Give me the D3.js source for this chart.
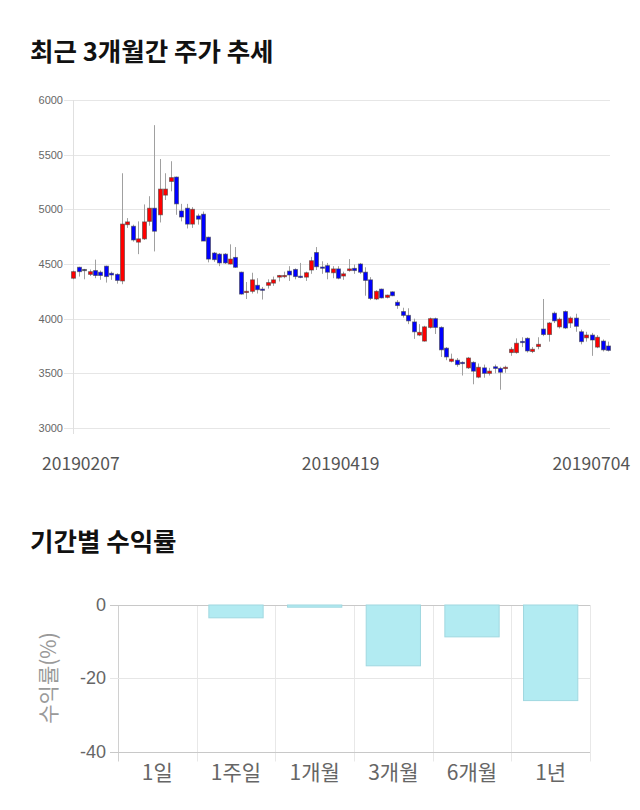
<!DOCTYPE html>
<html>
<head>
<meta charset="utf-8">
<script src="https://cdn.jsdelivr.net/npm/d3@7"></script>
<style>
html,body{margin:0;padding:0;background:#fff;}
svg{display:block;}
</style>
</head>
<body>
<svg id="chart" width="640" height="810"></svg>
<script>
// ---------- data: 3-month daily candles ----------
const opens  = [4370,4470,4450,4405,4440,4425,4480,4415,4405,4345,
                4860,4845,4700,4730,4890,5010,4950,5130,5255,5295,
                4985,5010,4865,4940,4955,4745,4600,4590,4590,4500,
                4560,4425,4245,4250,4305,4270,4305,4325,4380,4390,
                4435,4450,4388,4380,4445,4605,4472,4485,4420,4455,
                4390,4440,4460,4500,4425,4355,4180,4270,4195,4245,
                4150,4065,4030,3970,3850,3795,3920,4000,3920,3730,
                3610,3620,3600,3550,3600,3465,3550,3500,3560,3545,
                3545,3690,3690,3792,3820,3700,3745,3905,3855,4050,
                3925,4065,3960,4005,3880,3825,3850,3740,3795,3750];
const highs  = [4440,4475,4455,4450,4540,4440,4485,4430,4415,5330,
                4920,4860,4890,5045,5120,5770,5460,5330,5440,5300,
                5050,5050,5020,4960,4980,4750,4610,4600,4600,4680,
                4655,4430,4335,4420,4370,4290,4360,4385,4400,4430,
                4480,4460,4510,4430,4565,4655,4525,4510,4480,4480,
                4430,4545,4495,4510,4470,4380,4260,4275,4220,4250,
                4170,4100,4095,4000,3950,3935,4010,4010,3930,3740,
                3680,3640,3610,3650,3610,3590,3580,3550,3580,3560,
                3570,3740,3820,3830,3830,3740,3830,4180,3970,4065,
                4010,4075,4020,4045,3900,3880,3870,3850,3810,3790];
const lows   = [4360,4385,4360,4390,4370,4355,4330,4355,4320,4315,
                4830,4705,4590,4720,4850,4615,4880,5085,5165,4950,
                4890,4825,4830,4860,4710,4515,4520,4480,4500,4495,
                4465,4220,4180,4230,4230,4175,4275,4300,4340,4370,
                4345,4360,4370,4345,4410,4445,4410,4360,4370,4360,
                4355,4430,4410,4410,4210,4170,4170,4185,4185,4205,
                4090,4010,3950,3815,3840,3790,3910,3860,3650,3620,
                3600,3560,3480,3540,3400,3455,3460,3480,3500,3350,
                3505,3660,3680,3740,3690,3685,3720,3840,3790,3960,
                3910,3905,3915,3880,3765,3790,3660,3730,3700,3700];
const closes = [4430,4430,4450,4430,4395,4395,4385,4400,4350,4865,
                4885,4720,4730,4885,5010,4800,5185,5185,5290,5050,
                4930,4865,5000,4910,4710,4545,4540,4510,4510,4545,
                4470,4225,4250,4355,4265,4260,4330,4355,4395,4395,
                4400,4385,4385,4420,4530,4475,4470,4425,4455,4370,
                4410,4455,4440,4425,4350,4185,4250,4190,4215,4210,
                4120,4030,3980,3880,3875,3925,4000,3920,3715,3650,
                3630,3580,3595,3640,3520,3555,3500,3520,3545,3510,
                3555,3720,3775,3790,3705,3720,3765,3855,3960,3980,
                3995,3915,4005,3930,3790,3850,3805,3830,3715,3710];
const priceTicks = [3000,3500,4000,4500,5000,5500,6000];
const dateLabels = ["20190207","20190419","20190704"];
const dateLabelIdx = [1.4, 49.5, 95.9];

// ---------- data: period returns ----------
const periods = ["1일","1주일","1개월","3개월","6개월","1년"];
const returns = [0,-3.5,-0.6,-16.6,-8.7,-26.1];
const returnTicks = [0,-20,-40];

const svg = d3.select("#chart");
const KR = "'Noto Sans CJK KR','Noto Sans',sans-serif";
const LAT = "'Liberation Sans',Arial,sans-serif";

// ---------- titles ----------
svg.append("text").attr("x",30).attr("y",61).text("최근 3개월간 주가 추세")
  .attr("font-family",KR).attr("font-weight","bold").attr("font-size",25.5).attr("fill","#111");
svg.append("text").attr("x",30).attr("y",551).text("기간별 수익률")
  .attr("font-family",KR).attr("font-weight","bold").attr("font-size",25.5).attr("fill","#111");

// ---------- candlestick chart ----------
const x = d3.scaleLinear().domain([0, opens.length-1]).range([73.3, 608]);
const y = d3.scaleLinear().domain([3000, 6000]).range([428, 100]);
const g = svg.append("g");

g.selectAll("line.grid").data(priceTicks).join("line")
  .attr("x1",64).attr("x2",610)
  .attr("y1",d=>Math.round(y(d))+0.5).attr("y2",d=>Math.round(y(d))+0.5)
  .attr("stroke","#e6e6e6").attr("stroke-width",1);
g.append("line").attr("x1",73.5).attr("x2",73.5).attr("y1",y(6000)).attr("y2",y(3000)+6)
  .attr("stroke","#e0e0e0");
g.selectAll("text.pt").data(priceTicks).join("text")
  .attr("x",63).attr("y",d=>y(d)+4).attr("text-anchor","end")
  .attr("font-family",LAT).attr("font-size",11).attr("fill","#666").text(d=>d);

const idx = d3.range(opens.length);
g.selectAll("line.wick").data(idx).join("line")
  .attr("x1",i=>Math.round(x(i))+0.5).attr("x2",i=>Math.round(x(i))+0.5)
  .attr("y1",i=>y(highs[i])).attr("y2",i=>y(lows[i]))
  .attr("stroke","#a0a0a0").attr("stroke-width",1);
g.selectAll("rect.body").data(idx).join("rect")
  .attr("x",i=>Math.round(x(i))-1.5).attr("width",4)
  .attr("y",i=>y(Math.max(opens[i],closes[i])))
  .attr("height",i=>Math.max(1.2, Math.abs(y(opens[i])-y(closes[i]))))
  .attr("fill",i=>closes[i]>opens[i]?"#ff0000":(closes[i]<opens[i]?"#0000ff":"#333366"))
  .attr("stroke","rgba(60,60,60,0.55)").attr("stroke-width",1);

g.selectAll("text.dl").data(dateLabels).join("text")
  .attr("x",(d,i)=>x(dateLabelIdx[i])).attr("y",470).attr("text-anchor","middle")
  .attr("font-family",KR).attr("font-size",17.5).attr("fill","#555").text(d=>d);

// ---------- returns bar chart ----------
const xb = d3.scaleBand().domain(periods).range([118, 590]);
const yb = d3.scaleLinear().domain([-40, 0]).range([751.5, 605]);
const b = svg.append("g");

b.selectAll("line.vg").data(periods.concat(["_end"])).join("line")
  .attr("x1",(d,i)=>Math.round(118+i*xb.bandwidth())+0.5)
  .attr("x2",(d,i)=>Math.round(118+i*xb.bandwidth())+0.5)
  .attr("y1",yb(0)).attr("y2",yb(-40)+10)
  .attr("stroke",(d,i)=>i===0?"#d0d0d0":"#e8e8e8");
b.selectAll("line.hg").data(returnTicks).join("line")
  .attr("x1",110).attr("x2",590)
  .attr("y1",d=>Math.round(yb(d))+0.5).attr("y2",d=>Math.round(yb(d))+0.5)
  .attr("stroke",d=>d===-20?"#e6e6e6":"#c8c8c8");

b.selectAll("rect.bar").data(periods).join("rect")
  .attr("x",d=>xb(d)+xb.bandwidth()*0.155).attr("width",xb.bandwidth()*0.69)
  .attr("y",(d,i)=>yb(0)).attr("height",(d,i)=>yb(returns[i])-yb(0))
  .attr("fill","#b2ebf2").attr("stroke","#a0d8e0").attr("stroke-width",1)
  .attr("display",(d,i)=>returns[i]===0?"none":null);

b.selectAll("text.yl").data(returnTicks).join("text")
  .attr("x",106).attr("y",d=>yb(d)+6).attr("text-anchor","end")
  .attr("font-family",LAT).attr("font-size",18).attr("fill","#666").text(d=>d);
b.selectAll("text.xl").data(periods).join("text")
  .attr("x",d=>xb(d)+xb.bandwidth()/2).attr("y",780).attr("text-anchor","middle")
  .attr("font-family",KR).attr("font-size",21).attr("fill","#666").text(d=>d);
b.append("text").attr("transform","translate(56,678) rotate(-90)")
  .attr("text-anchor","middle").attr("font-family",KR).attr("font-size",21)
  .attr("fill","#999").text("수익률(%)");
</script>
</body>
</html>
